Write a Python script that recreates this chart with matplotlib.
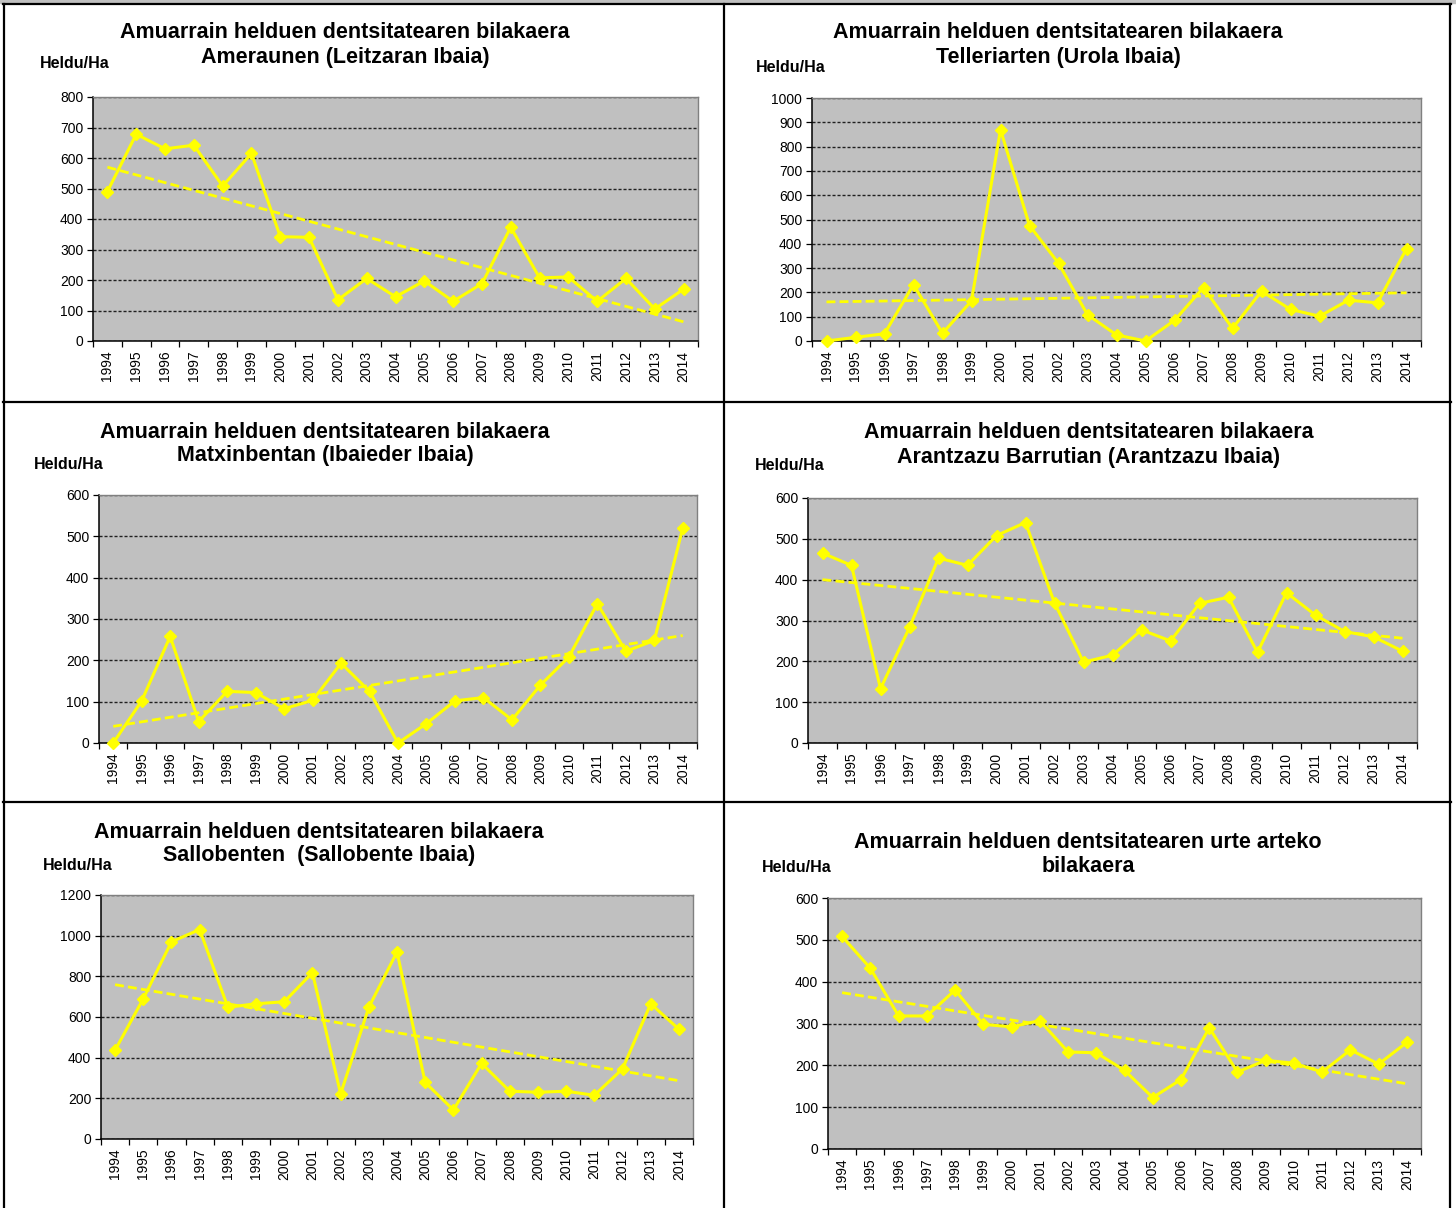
import numpy as np
import matplotlib
matplotlib.use('Agg')
import matplotlib.pyplot as plt
from matplotlib.lines import Line2D

plt.rcParams['font.family'] = ['Liberation Sans', 'DejaVu Sans']

# years on the x axis
years = [str(y) for y in range(1994, 2015)]

# Heldu/Ha per panel
ameraunen = [490, 678, 630, 642, 508, 615, 342, 340, 135, 205, 145, 197, 130, 188, 373, 207, 210, 130, 205, 105, 170]
telleriarten = [0, 15, 30, 232, 32, 165, 870, 475, 320, 108, 25, 0, 85, 220, 52, 205, 130, 102, 168, 157, 380]
matxinbentan = [0, 102, 258, 52, 125, 122, 83, 103, 193, 125, 0, 47, 102, 110, 56, 140, 208, 337, 222, 248, 520]
arantzazu = [465, 435, 133, 283, 453, 435, 508, 540, 343, 198, 215, 277, 250, 342, 357, 222, 368, 313, 273, 260, 225]
sallobenten = [437, 690, 970, 1030, 648, 665, 675, 818, 222, 648, 920, 278, 143, 372, 235, 230, 235, 215, 345, 665, 540]
urte_arteko = [508, 432, 318, 318, 380, 298, 292, 307, 232, 230, 188, 123, 166, 290, 184, 212, 205, 184, 237, 203, 255]

title_top = ['Amuarrain helduen dentsitatearen bilakaera'] * 5 + ['Amuarrain helduen dentsitatearen urte arteko']
title_bottom = ['Ameraunen (Leitzaran Ibaia)', 'Telleriarten (Urola Ibaia)',
                'Matxinbentan (Ibaieder Ibaia)', 'Arantzazu Barrutian (Arantzazu Ibaia)',
                'Sallobenten  (Sallobente Ibaia)', 'bilakaera']
series = [ameraunen, telleriarten, matxinbentan, arantzazu, sallobenten, urte_arteko]
ymaxes = [800, 1000, 600, 600, 1200, 600]
ysteps = [100, 100, 100, 100, 200, 100]

W, H = 1456, 1208
fig = plt.figure(figsize=(W / 100, H / 100), dpi=100)
fig.patch.set_facecolor('white')

# pixel boxes: axes (left, top, right, bottom), title (cx, y line 1, y line 2), unit label (x, y)
axes_px = [(93, 97, 698, 341), (812, 98, 1421, 341), (99, 495, 697, 743),
           (808, 498, 1417, 743), (101, 895, 693, 1139), (828, 898, 1421, 1149)]
title_px = [(345, 33, 57), (1058, 32, 57), (325, 432, 455), (1089, 432, 457), (319, 832, 856), (1088, 843, 867)]
unit_px = [(40, 64), (756, 68), (34, 465), (755, 466), (43, 866), (762, 867)]

x = np.arange(len(years))
for i in range(6):
    l, t, r, b = axes_px[i]
    ax = fig.add_axes([l / W, 1 - b / H, (r - l) / W, (b - t) / H])
    ax.set_facecolor('#C0C0C0')
    vals = np.array(series[i], dtype=float)

    ax.set_ylim(0, ymaxes[i])
    ax.set_xlim(-0.5, len(years) - 0.5)
    ax.set_yticks(np.arange(0, ymaxes[i] + 1, ysteps[i]))
    ax.yaxis.grid(True, color='#202020', linestyle=(0, (2.2, 1.4)), linewidth=1.0)
    ax.set_axisbelow(True)

    # trend line (linear fit)
    k, c = np.polyfit(x, vals, 1)
    ax.plot(x, k * x + c, color='#FFFF00', linewidth=2.0, dashes=(3.2, 1.5), zorder=2)
    ax.plot(x, vals, color='#FFFF00', linewidth=2.2, marker='D', markersize=6.5,
            markeredgecolor='#FFFF00', zorder=3, clip_on=False)

    ax.set_xticks(x)
    ax.set_xticklabels(years, rotation=90, fontsize=10)
    ax.set_xticks(np.arange(-0.5, len(years)), minor=True)
    ax.tick_params(axis='x', which='major', length=0, pad=7)
    ax.tick_params(axis='x', which='minor', length=4, width=0.9, direction='out')
    ax.tick_params(axis='y', length=4, width=0.9, labelsize=10, pad=3)

    for s in ['left', 'bottom']:
        ax.spines[s].set_color('black')
        ax.spines[s].set_linewidth(1.1)
    for s in ['top', 'right']:
        ax.spines[s].set_color('#808080')
        ax.spines[s].set_linewidth(1.0)

    cx, y1, y2 = title_px[i]
    fig.text(cx / W, 1 - y1 / H, title_top[i], ha='center', va='center', fontsize=15.5,
             fontweight='bold')
    fig.text(cx / W, 1 - y2 / H, title_bottom[i], ha='center', va='center', fontsize=15.5,
             fontweight='bold')
    ux, uy = unit_px[i]
    fig.text(ux / W, 1 - uy / H, 'Heldu/Ha', ha='left', va='center', fontsize=11.5,
             fontweight='bold')

# panel frame
def hline(y, x0, x1):
    fig.add_artist(Line2D([x0 / W, x1 / W], [1 - y / H, 1 - y / H], color='black', linewidth=1.6))

def vline(xp, y0, y1):
    fig.add_artist(Line2D([xp / W, xp / W], [1 - y0 / H, 1 - y1 / H], color='black', linewidth=1.6))

fig.add_artist(plt.Rectangle((0, 1 - 3 / H), 1, 3 / H, color='#C0C0C0', transform=fig.transFigure))
hline(4, 3, 1451)
hline(402, 3, 1451)
hline(802, 3, 1451)
vline(4, 4, 1208)
vline(724, 4, 1208)
vline(1450, 4, 1208)

fig.savefig('out.png', dpi=100)
